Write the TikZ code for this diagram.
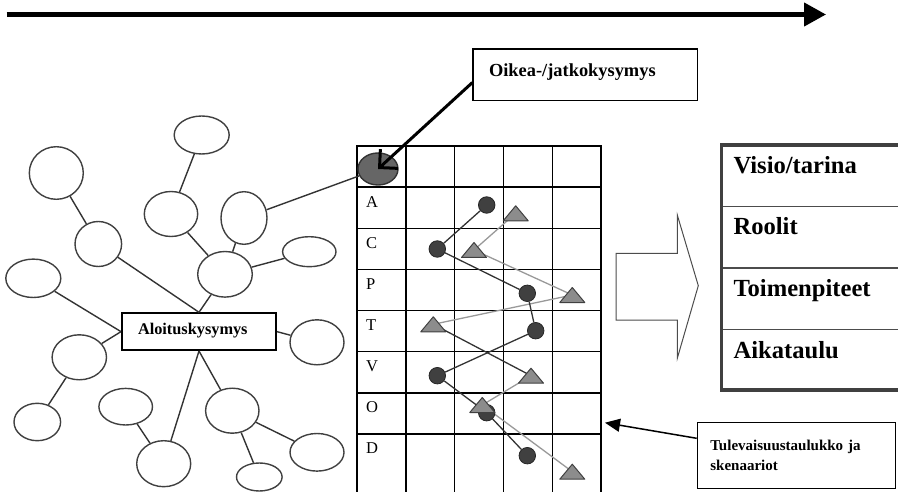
\documentclass[tikz,border=0pt]{standalone}
\usepackage{fontspec}
\setmainfont{Liberation Serif}
\usetikzlibrary{shapes.geometric}
\usetikzlibrary{arrows.meta}

\tikzset{
  bubble/.style 2 args={draw=black!75, line width=1.4pt, ellipse, inner sep=0pt,
    minimum width=#1pt, minimum height=#2pt},
  link/.style={draw=black!80, line width=1.4pt},
  gridline/.style={draw=black, line width=1.4pt},
  rowlabel/.style={anchor=base west, inner sep=0pt, font=\fontsize{16.5}{18}\selectfont},
  dot/.style={circle, fill=black!75, draw=black!85, line width=0.8pt,
    minimum size=16.5pt, inner sep=0pt},
  tri/.style={fill=black!45, draw=black!75, line width=1pt, line join=round},
  darkpath/.style={draw=black!80, line width=1.3pt},
  greypath/.style={draw=black!40, line width=1.3pt},
  tablehead/.style={anchor=base west, inner sep=0pt,
    font=\bfseries\fontsize{24.6}{28}\selectfont},
}

\begin{document}
\begin{tikzpicture}[x=1pt, y=-1pt]
  \useasboundingbox (0,0) rectangle (898,492);

  % time arrow
  \coordinate (tstart) at (6.7,14.5);
  \coordinate (tend) at (826,14.5);
  \draw[line width=4.3pt, -{Triangle[length=22pt,width=23pt]}] (tstart) -- (tend);

  % mind map
  \node[draw, line width=2pt, anchor=north west, inner xsep=16pt, inner ysep=0pt,
    text width=122pt, align=left, text height=21.3pt, text depth=15.4pt,
    font=\bfseries\fontsize{16.3}{18}\selectfont] (hub) at (121,312.3) {Aloituskysymys};
  \node[bubble={54}{52.6}]   (m1)  at (56.3,173) {};
  \node[bubble={55}{38}]     (m2)  at (201.7,135) {};
  \node[bubble={53.4}{45}]   (m3)  at (171,214) {};
  \node[bubble={46}{52.6}]   (m4)  at (244,218) {};
  \node[bubble={46.6}{45}]   (m5)  at (98.3,244) {};
  \node[bubble={53.4}{30}]   (m6)  at (309.3,251.7) {};
  \node[bubble={54.6}{45.6}] (m7)  at (225,274.3) {};
  \node[bubble={55}{38.4}]   (m8)  at (33.3,278.3) {};
  \node[bubble={54}{45}]     (m9)  at (317,342.3) {};
  \node[bubble={54.4}{45}]   (m10) at (79.3,357.3) {};
  \node[bubble={53.6}{36.6}] (m11) at (125.7,406.7) {};
  \node[bubble={53.4}{45}]   (m12) at (232.3,410.7) {};
  \node[bubble={46.6}{37.4}] (m13) at (37.3,422) {};
  \node[bubble={54}{46}]     (m14) at (163.7,463.7) {};
  \node[bubble={54}{37.6}]   (m15) at (317,452.3) {};
  \node[bubble={45.6}{28}]   (m16) at (259.3,477) {};

  \draw[link] (m1) -- (m5);
  \draw[link] (m2) -- (m3);
  \draw[link] (m3) -- (m7);
  \draw[link] (m4) -- (m7);
  \draw[link] (m6) -- (m7);
  \draw[link] (m5) -- (hub.north);
  \draw[link] (m7) -- (hub.north);
  \draw[link] (m8) -- (hub.west);
  \draw[link] (m10) -- (hub.west);
  \draw[link] (m10) -- (m13);
  \draw[link] (m9) -- (hub.east);
  \draw[link] (m14) -- (hub.south);
  \draw[link] (m12) -- (hub.south);
  \draw[link] (m11) -- (m14);
  \draw[link] (m12) -- (m15);
  \draw[link] (m12) -- (m16);

  % future table
  \foreach \i in {0,...,5}
    \draw[gridline] (357+48.8*\i,146) -- (357+48.8*\i,493);
  \foreach \j in {0,...,7}
    \draw[gridline] (356.3,146+41.14*\j) -- (601.7,146+41.14*\j);
  \foreach \l [count=\i] in {A,C,P,T,V,O,D}
    \node[rowlabel] (row\l) at (366,146+41.14*\i+20) {\l};
  \coordinate (gridedge) at (605,422.7);

  \node[ellipse, fill=black!60, draw=black!80, line width=1.4pt, inner sep=0pt,
    minimum width=40pt, minimum height=32pt] (q0) at (378,169) {};
  \draw[link] (m4) -- (q0);

  % scenario paths
  \coordinate (t1) at (515.7,213.3);
  \coordinate (t2) at (474,250);
  \coordinate (t3) at (572.3,295);
  \coordinate (t4) at (433.3,324.3);
  \coordinate (t5) at (531,375.7);
  \coordinate (t6) at (482.3,405);
  \coordinate (t7) at (572.3,471.7);
  \draw[greypath] (t1) -- (t2) -- (t3) -- (t4);
  \draw[greypath] (t5) -- (t6) -- (t7);

  \node[dot] (c1) at (486.7,205) {};
  \node[dot] (c2) at (437.3,249) {};
  \node[dot] (c3) at (527.3,293.3) {};
  \node[dot] (c4) at (535.7,330.7) {};
  \node[dot] (c5) at (437.3,375.7) {};
  \node[dot] (c6) at (486.7,412.7) {};
  \node[dot] (c7) at (527.3,455.7) {};
  \draw[darkpath] (c1) -- (c2) -- (c3) -- (c4) -- (c5) -- (c6) -- (c7);
  \draw[darkpath] (t4) -- (t5);

  \foreach \i in {1,...,7}
    \draw[tri] (t\i) ++(-12.5,7.5) -- ++(25,0) -- ++(-12.5,-15) -- cycle;

  % question box
  \node[draw, line width=1.5pt, anchor=north west, inner xsep=16pt, inner ysep=0pt,
    text width=192.4pt, align=left, text height=27pt, text depth=24.7pt,
    font=\bfseries\fontsize{18.4}{20}\selectfont] (obox) at (472.3,48.3) {Oikea-/jatkokysymys};
  \draw[line width=3pt, -{Straight Barb[length=13pt,width=26pt]}]
    ([yshift=-7.7pt]obox.west) -- (q0.center);

  % caption box
  \node[draw, line width=1.3pt, anchor=north west, minimum width=198pt,
    minimum height=66.3pt, inner xsep=13pt, text width=172pt, align=left,
    font=\bfseries\fontsize{15}{20}\selectfont] (tbox) at (696.7,421.7)
    {Tulevaisuustaulukko ja\\skenaariot};
  \draw[line width=1.5pt, -{Triangle[length=15pt,width=13pt]}]
    ([yshift=-16.6pt]tbox.north west) -- (gridedge);

  % block arrow
  \draw[draw=black!70, line width=1pt, line join=miter]
    (616,253.3) -- (677.3,253.3) -- (677.3,215) -- (698.3,285.7)
    -- (677.3,358.3) -- (677.3,320) -- (616,320) -- cycle;

  % result table
  \foreach \y in {206.5,268,329.5}
    \draw[black!70, line width=1.8pt] (721.7,\y) -- (910,\y);
  \draw[black!75, line width=3.5pt] (721.7,145) rectangle (910,390);
  \node[tablehead] (visio) at (733.3,173.5) {Visio/tarina};
  \node[tablehead] (roolit) at (733.3,235) {Roolit};
  \node[tablehead] (toimet) at (733.3,296.5) {Toimenpiteet};
  \node[tablehead] (aikat) at (733.3,358) {Aikataulu};
\end{tikzpicture}
\end{document}
